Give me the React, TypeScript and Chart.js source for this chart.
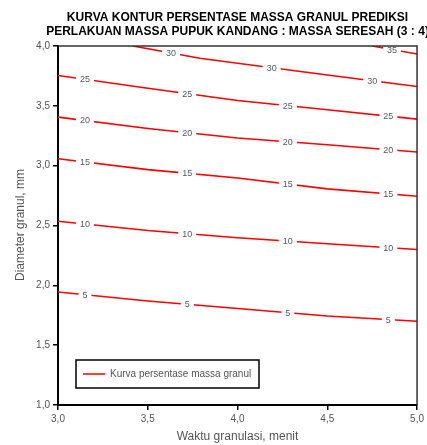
import React, { useEffect, useRef } from "react";
import { Chart, registerables } from "chart.js";

Chart.register(...registerables);

const titleLines = [
  "KURVA KONTUR PERSENTASE MASSA GRANUL PREDIKSI",
  "PERLAKUAN MASSA PUPUK KANDANG : MASSA SERESAH (3 : 4)",
];
const xAxisTitle = "Waktu granulasi, menit";
const yAxisTitle = "Diameter granul, mm";
const legendLabel = "Kurva persentase massa granul";

const contourLevels = [5, 10, 15, 20, 25, 30, 35];

const xs5 = [3.0, 3.5, 4.0, 4.5, 5.0];
const ys5 = [1.944, 1.869, 1.806, 1.744, 1.7];
const xs10 = [3.0, 3.5, 4.0, 4.5, 5.0];
const ys10 = [2.536, 2.458, 2.397, 2.347, 2.3];
const xs15 = [3.0, 3.5, 4.0, 4.5, 5.0];
const ys15 = [3.058, 2.967, 2.897, 2.806, 2.744];
const xs20 = [3.0, 3.5, 4.0, 4.5, 5.0];
const ys20 = [3.406, 3.311, 3.231, 3.175, 3.114];
const xs25 = [3.0, 3.5, 4.0, 4.5, 5.0];
const ys25 = [3.753, 3.647, 3.544, 3.467, 3.389];
const xs30 = [3.417, 3.789, 4.0, 4.5, 5.0];
const ys30 = [4.0, 3.897, 3.856, 3.758, 3.661];
const xs35 = [4.75, 5.0];
const ys35 = [4.0, 3.933];

const labelX5 = [3.15, 3.72, 4.28, 4.84];
const labelX10 = [3.15, 3.72, 4.28, 4.84];
const labelX15 = [3.15, 3.72, 4.28, 4.84];
const labelX20 = [3.15, 3.72, 4.28, 4.84];
const labelX25 = [3.15, 3.72, 4.28, 4.84];
const labelX30 = [3.63, 4.19, 4.75];
const labelX35 = [4.86];

const contourXs = [xs5, xs10, xs15, xs20, xs25, xs30, xs35];
const contourYs = [ys5, ys10, ys15, ys20, ys25, ys30, ys35];
const contourLabelXs = [labelX5, labelX10, labelX15, labelX20, labelX25, labelX30, labelX35];

const xTicks = [3.0, 3.5, 4.0, 4.5, 5.0];
const yTicks = [1.0, 1.5, 2.0, 2.5, 3.0, 3.5, 4.0];

const FONT = "'Liberation Sans', Arial, sans-serif";
const RED = "#ff0000";

function interpY(xsArr: number[], ysArr: number[], x: number): number {
  for (let i = 0; i < xsArr.length - 1; i++) {
    if (x >= xsArr[i] && x <= xsArr[i + 1]) {
      const t = (x - xsArr[i]) / (xsArr[i + 1] - xsArr[i]);
      return ysArr[i] + t * (ysArr[i + 1] - ysArr[i]);
    }
  }
  return ysArr[ysArr.length - 1];
}

const fmt = (v: number) => v.toFixed(1).replace(".", ",");

const customPlugin = {
  id: "customDraw",
  afterDatasetsDraw(chart: any) {
    const ctx = chart.ctx;
    const xs = chart.scales.x;
    const ys = chart.scales.y;
    ctx.save();
    ctx.font = `9px ${FONT}`;
    ctx.textAlign = "center";
    ctx.textBaseline = "middle";
    contourLevels.forEach((lvl, i) => {
      contourLabelXs[i].forEach((lx) => {
        const ly = interpY(contourXs[i], contourYs[i], lx);
        const px = xs.getPixelForValue(lx);
        const py = ys.getPixelForValue(ly);
        const txt = String(lvl);
        const w = ctx.measureText(txt).width;
        ctx.fillStyle = "#ffffff";
        ctx.fillRect(px - w / 2 - 4, py - 4, w + 8, 8);
        ctx.fillStyle = "#555a60";
        ctx.fillText(txt, px, py + 0.5);
      });
    });
    ctx.restore();
  },
  afterDraw(chart: any) {
    const ctx = chart.ctx;
    const area = chart.chartArea;
    ctx.save();
    // frame top/right
    ctx.strokeStyle = "#333";
    ctx.lineWidth = 1.5;
    ctx.beginPath();
    ctx.moveTo(area.left, area.top);
    ctx.lineTo(area.right, area.top);
    ctx.lineTo(area.right, area.bottom);
    ctx.stroke();
    // title
    ctx.fillStyle = "#000";
    ctx.font = `bold 12px ${FONT}`;
    ctx.textAlign = "center";
    ctx.textBaseline = "alphabetic";
    const cx = (area.left + area.right) / 2;
    ctx.fillText(titleLines[0], cx, 21);
    ctx.fillText(titleLines[1], cx, 35);
    // axis titles
    ctx.fillStyle = "#555";
    ctx.font = `12px ${FONT}`;
    ctx.textBaseline = "middle";
    ctx.fillText(xAxisTitle, cx, 437);
    ctx.save();
    ctx.translate(21, 225);
    ctx.rotate(-Math.PI / 2);
    ctx.fillText(yAxisTitle, 0, 0);
    ctx.restore();
    // legend
    const lx0 = 76, ly0 = 360, lw = 183, lh = 28;
    ctx.fillStyle = "#fff";
    ctx.fillRect(lx0, ly0, lw, lh);
    ctx.strokeStyle = "#000";
    ctx.lineWidth = 1.5;
    ctx.strokeRect(lx0, ly0, lw, lh);
    ctx.strokeStyle = RED;
    ctx.lineWidth = 1.5;
    ctx.beginPath();
    ctx.moveTo(83, ly0 + lh / 2);
    ctx.lineTo(105, ly0 + lh / 2);
    ctx.stroke();
    ctx.fillStyle = "#555";
    ctx.font = `10px ${FONT}`;
    ctx.textAlign = "left";
    ctx.fillText(legendLabel, 110, ly0 + lh / 2);
    ctx.restore();
  },
};

export default function App() {
  const ref = useRef<HTMLCanvasElement | null>(null);
  useEffect(() => {
    document.body.style.margin = "0";
    if (!ref.current) return;
    const datasets = contourLevels.map((lvl, i) => ({
      label: String(lvl),
      data: contourXs[i].map((x, j) => ({ x, y: contourYs[i][j] })),
      showLine: true,
      borderColor: RED,
      backgroundColor: RED,
      borderWidth: 1.6,
      pointRadius: 0,
      fill: false,
      tension: 0,
    }));
    const chart = new Chart(ref.current, {
      type: "scatter",
      data: { datasets },
      options: {
        animation: false,
        responsive: false,
        maintainAspectRatio: false,
        layout: { padding: { top: 46, right: 8, left: 0, bottom: 0 } },
        plugins: {
          legend: { display: false },
          title: { display: false },
          tooltip: { enabled: false },
        },
        scales: {
          x: {
            type: "linear",
            min: 3,
            max: 5,
            afterBuildTicks: (s: any) => {
              s.ticks = xTicks.map((v) => ({ value: v }));
            },
            afterFit: (s: any) => {
              s.height = 40;
            },
            ticks: {
              callback: (v: any) => fmt(Number(v)),
              font: { size: 10, family: FONT },
              color: "#555",
              padding: 3,
              maxRotation: 0,
            },
            grid: {
              display: true,
              drawOnChartArea: false,
              drawTicks: true,
              tickLength: 5,
              color: "#000",
              lineWidth: 1.5,
            },
            border: { display: true, color: "#000", width: 2 },
          },
          y: {
            type: "linear",
            min: 1,
            max: 4,
            afterBuildTicks: (s: any) => {
              s.ticks = yTicks.map((v) => ({ value: v }));
            },
            afterFit: (s: any) => {
              s.width = 58;
            },
            ticks: {
              callback: (v: any) => fmt(Number(v)),
              font: { size: 10, family: FONT },
              color: "#555",
              padding: 3,
            },
            grid: {
              display: true,
              drawOnChartArea: false,
              drawTicks: true,
              tickLength: 5,
              color: "#000",
              lineWidth: 1.5,
            },
            border: { display: true, color: "#000", width: 2 },
          },
        },
      },
      plugins: [customPlugin],
    } as any);
    return () => chart.destroy();
  }, []);
  return <canvas ref={ref} width={427} height={445} style={{ display: "block" }} />;
}
